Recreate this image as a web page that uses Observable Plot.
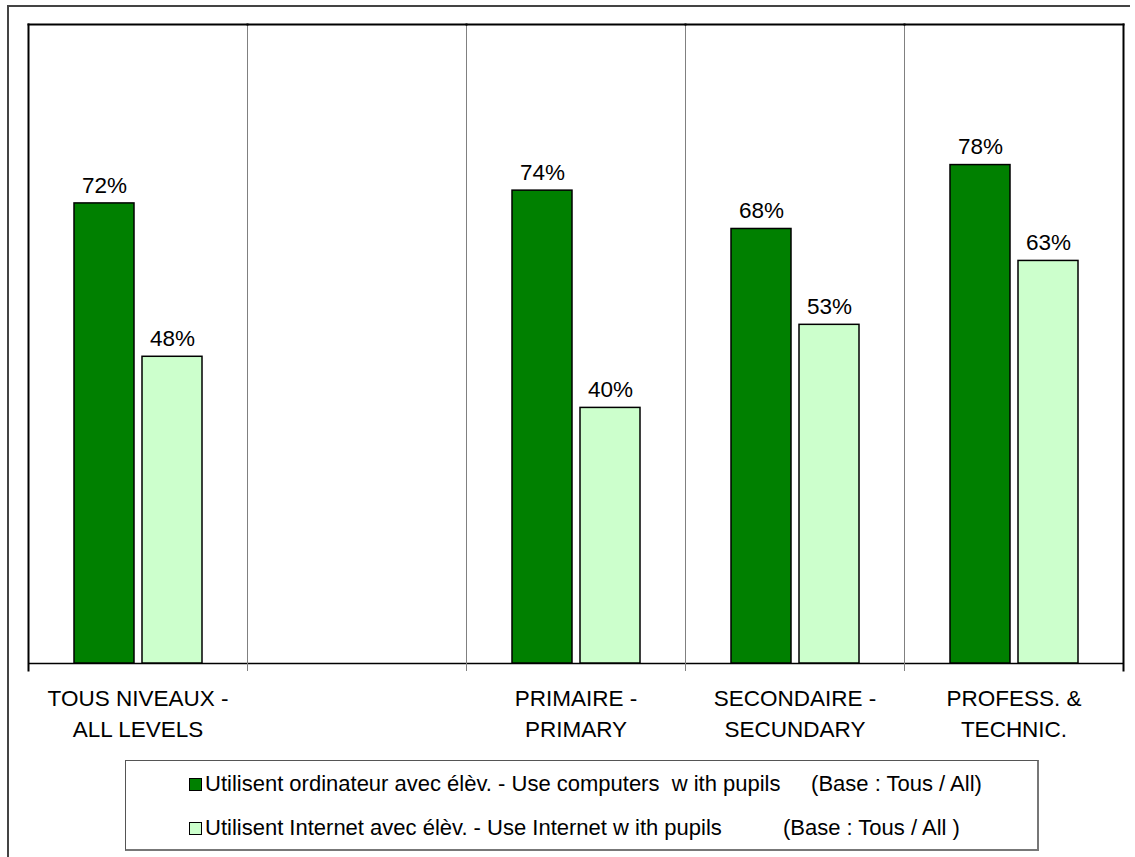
<!DOCTYPE html>
<html>
<head>
<meta charset="utf-8">
<script src="https://cdn.jsdelivr.net/npm/d3@7"></script>
<script src="https://cdn.jsdelivr.net/npm/@observablehq/plot@0.6"></script>
<style>
  html, body { margin: 0; padding: 0; background: #fff; overflow: hidden; }
  #wrap { position: relative; width: 1135px; height: 857px; font-family: "Liberation Sans", Arial, sans-serif; }
  #outer { position: absolute; left: 7px; top: 5px; width: 1123px; height: 860px; border-left: 2px solid #444; border-top: 2px solid #444; box-sizing: border-box; }
  #chart { position: absolute; left: 0; top: 0; }
  #legend { position: absolute; left: 125px; top: 760px; width: 914px; height: 91px; border: 1px solid #555; border-right: 2px solid #777; border-bottom: 2px solid #777; box-sizing: border-box; background: #fff; }
  .row { position: absolute; left: 63px; display: flex; align-items: center; font-size: 22px; white-space: pre; color: #000; }
  .sw { width: 11px; height: 11px; border: 1px solid #000; margin-right: 3px; }
</style>
</head>
<body>
<div id="wrap">
  <div id="outer"></div>
  <div id="chart"></div>
  <div id="legend"></div>
</div>
<script>
// ---- data ----
const categories = ["TOUS NIVEAUX -\nALL LEVELS", " ", "PRIMAIRE -\nPRIMARY", "SECONDAIRE -\nSECUNDARY", "PROFESS. &\nTECHNIC."];
const seriesKeys = ["computers", "internet"];
const seriesLabels = [
  "Utilisent ordinateur avec élèv. - Use computers  w ith pupils     (Base : Tous / All)",
  "Utilisent Internet avec élèv. - Use Internet w ith pupils          (Base : Tous / All )"
];
const computersValues = [72, null, 74, 68, 78];
const internetValues = [48, null, 40, 53, 63];
const seriesColors = ["#008000", "#CCFFCC"];

// ---- table ----
const table = [];
categories.forEach((c, i) => {
  if (computersValues[i] != null) table.push({cat: c, series: "computers", value: computersValues[i]});
  if (internetValues[i] != null) table.push({cat: c, series: "internet", value: internetValues[i]});
});

const chart = Plot.plot({
  width: 1135,
  height: 857,
  marginLeft: 27,
  marginRight: 12,
  marginTop: 24,
  marginBottom: 194,
  style: {fontFamily: "'Liberation Sans', Arial, sans-serif", background: "transparent", color: "#000"},
  fx: {domain: categories, padding: 0, axis: null},
  x: {domain: seriesKeys, paddingInner: 0.125, paddingOuter: 0.669, axis: null},
  y: {domain: [0, 100], axis: null},
  color: {domain: seriesKeys, range: seriesColors},
  marks: [
    // baseline drawn for every category (keeps the empty category's panel)
    Plot.ruleY(categories, {fx: d => d, y: () => 0, stroke: "#000", strokeWidth: 1.5}),
    Plot.frame({anchor: "left", stroke: "#808080", strokeWidth: 1, insetBottom: -7}),
    Plot.frame({anchor: "right", stroke: "#000", strokeWidth: 2, insetBottom: -7, facetAnchor: "right"}),
    Plot.frame({anchor: "left", stroke: "#000", strokeWidth: 2, insetBottom: -7, facetAnchor: "left"}),
    Plot.frame({anchor: "top", stroke: "#000", strokeWidth: 2}),
    Plot.barY(table, {fx: "cat", x: "series", y: "value", fill: "series", stroke: "#000", strokeWidth: 1.5}),
    Plot.text(table, {fx: "cat", x: "series", y: "value", text: d => d.value + "%", lineAnchor: "middle", dy: -18, fontSize: 22.5, fill: "#000"}),
    Plot.axisFx({anchor: "bottom", tickSize: 0, tickPadding: 21, fontSize: 22.5, lineHeight: 1.36, label: null, tickFormat: d => d.trim()})
  ]
});
document.getElementById("chart").appendChild(chart);

// ---- legend ----
const legend = document.getElementById("legend");
seriesLabels.forEach((lab, i) => {
  const row = document.createElement("div");
  row.className = "row";
  row.style.top = (i === 0 ? 10 : 54) + "px";
  const sw = document.createElement("div");
  sw.className = "sw";
  sw.style.background = seriesColors[i];
  const t = document.createElement("span");
  t.textContent = lab;
  row.appendChild(sw);
  row.appendChild(t);
  legend.appendChild(row);
});
</script>
</body>
</html>
